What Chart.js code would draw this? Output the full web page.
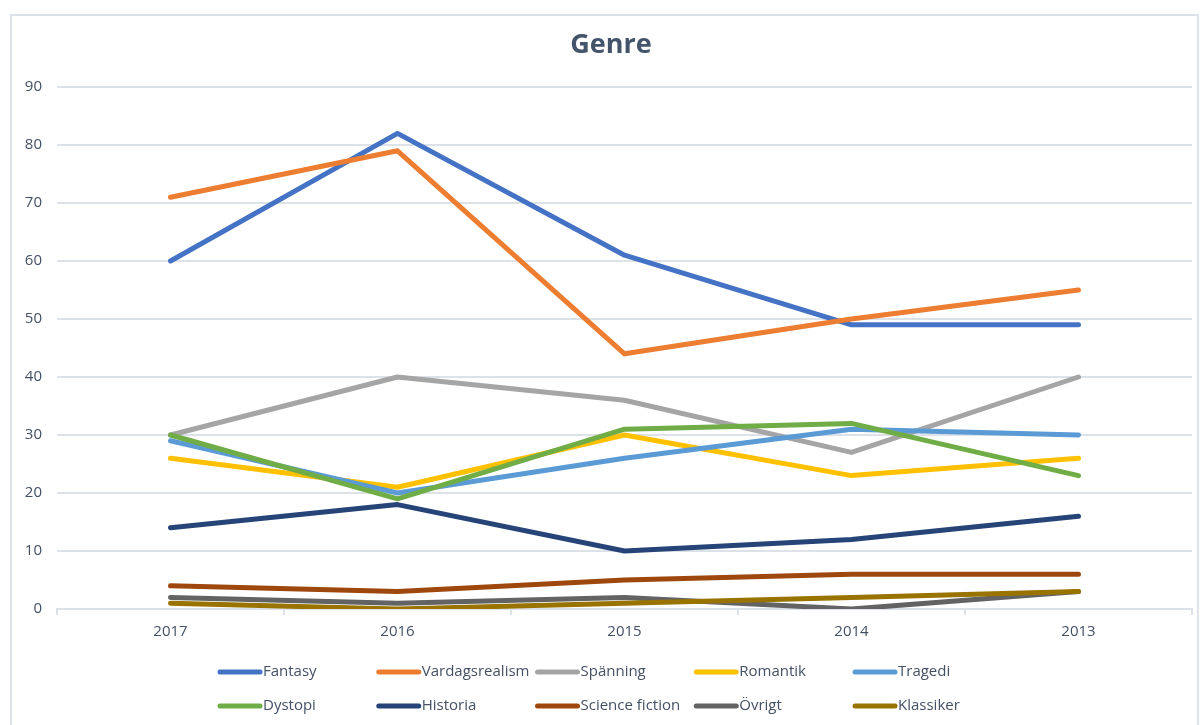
<!DOCTYPE html>
<html>
<head>
<meta charset="utf-8">
<script src="https://cdn.jsdelivr.net/npm/chart.js@4.4.1/dist/chart.umd.min.js"></script>
<style>
  html, body { margin: 0; padding: 0; background: #fff; }
  #ram { position: absolute; left: 10px; top: 14px; width: 1189px; height: 730px; border-left: 2px solid #DDE2E9; border-top: 2px solid #DDE2E9; border-right: 2px solid #DDE2E9; box-sizing: border-box; }
  #wrap { position: absolute; left: 0; top: 0; width: 1200px; height: 725px; }
</style>
</head>
<body>
<div id="ram"></div>
<div id="wrap"><canvas id="grafica" width="1200" height="725"></canvas></div>
<script>
const ar = ["2017", "2016", "2015", "2014", "2013"]
const yTicks = [0, 10, 20, 30, 40, 50, 60, 70, 80, 90]
const titel = "Genre"

const genrer = ["Fantasy", "Vardagsrealism", "Spänning", "Romantik", "Tragedi",
  "Dystopi", "Historia", "Science fiction", "Övrigt", "Klassiker"]

const fantasy = [60, 82, 61, 49, 49]
const vardagsrealism = [71, 79, 44, 50, 55]
const spanning = [30, 40, 36, 27, 40]
const romantik = [26, 21, 30, 23, 26]
const tragedi = [29, 20, 26, 31, 30]
const dystopi = [30, 19, 31, 32, 23]
const historia = [14, 18, 10, 12, 16]
const scienceFiction = [4, 3, 5, 6, 6]
const ovrigt = [2, 1, 2, 0, 3]
const klassiker = [1, 0, 1, 2, 3]

const serier = [fantasy, vardagsrealism, spanning, romantik, tragedi,
  dystopi, historia, scienceFiction, ovrigt, klassiker]

const farger = ["#4472C4", "#ED7D31", "#A5A5A5", "#FFC000", "#5B9BD5",
  "#70AD47", "#264478", "#9E480E", "#636363", "#997300"]

const typsnitt = "'Open Sans', 'Liberation Sans', sans-serif"
const textfarg = "#445064"
const linjefarg = "#DDE2E9"

// titel + legend i rutnät (5 kolumner)
const ritaPlugin = {
  id: "titelOchLegend",
  afterDraw(chart) {
    const ctx = chart.ctx
    ctx.save()
    ctx.font = "bold 27px " + typsnitt
    ctx.fillStyle = "#44546A"
    ctx.textAlign = "center"
    ctx.textBaseline = "middle"
    ctx.fillText(titel, 611, 45)

    ctx.font = "15px " + typsnitt
    ctx.textAlign = "left"
    chart.data.datasets.forEach((ds, i) => {
      const kol = i % 5
      const rad = Math.floor(i / 5)
      const x = 218 + kol * 158.75
      const y = 672 + rad * 34
      ctx.strokeStyle = ds.borderColor
      ctx.lineWidth = 5
      ctx.lineCap = "round"
      ctx.beginPath()
      ctx.moveTo(x + 2, y)
      ctx.lineTo(x + 42, y)
      ctx.stroke()
      ctx.fillStyle = textfarg
      ctx.fillText(ds.label, x + 45, y)
    })
    ctx.restore()
  }
}

const datasets = serier.map((data, i) => ({
  label: genrer[i],
  data: data,
  borderColor: farger[i],
  backgroundColor: farger[i],
  borderWidth: 5,
  pointRadius: 0,
  tension: 0,
  borderCapStyle: "round",
  borderJoinStyle: "round",
  order: serier.length - i
}))

new Chart(document.querySelector("#grafica"), {
  type: "line",
  data: { labels: ar, datasets: datasets },
  options: {
    responsive: false,
    devicePixelRatio: 1,
    animation: false,
    layout: { padding: { left: 0, right: 8, top: 87, bottom: 76 } },
    plugins: {
      legend: { display: false },
      tooltip: { enabled: false },
      title: { display: false }
    },
    scales: {
      x: {
        offset: true,
        grid: { display: true, drawOnChartArea: false, drawTicks: true, tickLength: 6, color: linjefarg, lineWidth: 2, offset: true },
        border: { display: true, color: linjefarg, width: 2 },
        ticks: { color: textfarg, font: { family: typsnitt, size: 15 }, padding: 8, maxRotation: 0 },
        afterFit: s => { s.height = 40 }
      },
      y: {
        min: 0,
        max: 90,
        afterBuildTicks: s => { s.ticks = yTicks.map(v => ({ value: v })) },
        grid: { color: linjefarg, lineWidth: 2, drawTicks: false },
        border: { display: false },
        ticks: { color: textfarg, font: { family: typsnitt, size: 15 }, padding: 15 },
        afterFit: s => { s.width = 57 }
      }
    }
  },
  plugins: [ritaPlugin]
})
</script>
</body>
</html>
